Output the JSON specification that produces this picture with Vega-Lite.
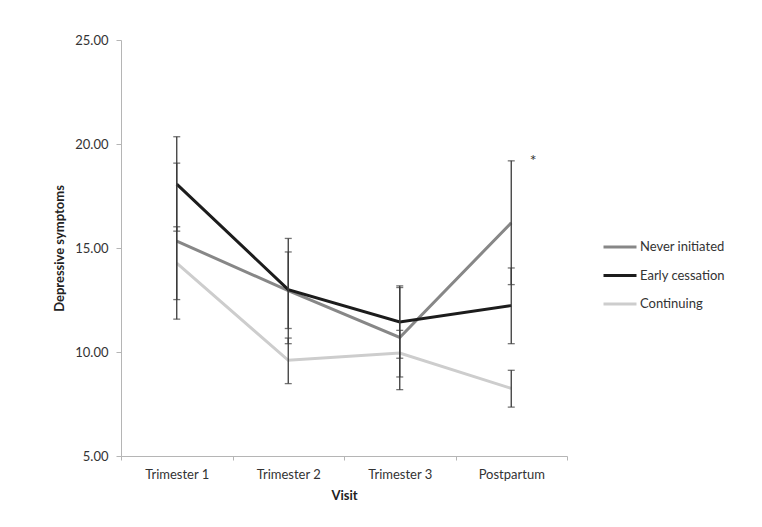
{
  "$schema": "https://vega.github.io/schema/vega-lite/v6.json",
  "width": 446,
  "height": 416,
  "autosize": {"type": "none"},
  "padding": {"left": 121, "top": 40, "right": 195, "bottom": 71},
  "background": "white",
  "data": {
    "values": [
      {"visit": "Trimester 1", "group": "Never initiated", "mean": 15.33, "lower": 11.58, "upper": 19.08},
      {"visit": "Trimester 2", "group": "Never initiated", "mean": 12.95, "lower": 11.13, "upper": 14.81},
      {"visit": "Trimester 3", "group": "Never initiated", "mean": 10.7, "lower": 8.19, "upper": 13.1},
      {"visit": "Postpartum", "group": "Never initiated", "mean": 16.21, "lower": 13.24, "upper": 19.19},
      {"visit": "Trimester 1", "group": "Early cessation", "mean": 18.07, "lower": 15.81, "upper": 20.35},
      {"visit": "Trimester 2", "group": "Early cessation", "mean": 13.0, "lower": 10.4, "upper": 15.46},
      {"visit": "Trimester 3", "group": "Early cessation", "mean": 11.44, "lower": 9.7, "upper": 13.18},
      {"visit": "Postpartum", "group": "Early cessation", "mean": 12.23, "lower": 10.4, "upper": 14.04},
      {"visit": "Trimester 1", "group": "Continuing", "mean": 14.27, "lower": 12.52, "upper": 16.02},
      {"visit": "Trimester 2", "group": "Continuing", "mean": 9.6, "lower": 8.48, "upper": 10.67},
      {"visit": "Trimester 3", "group": "Continuing", "mean": 9.95, "lower": 8.8, "upper": 11.04},
      {"visit": "Postpartum", "group": "Continuing", "mean": 8.25, "lower": 7.35, "upper": 9.12}
    ]
  },
  "encoding": {
    "x": {
      "field": "visit",
      "type": "nominal",
      "sort": ["Trimester 1", "Trimester 2", "Trimester 3", "Postpartum"],
      "scale": {"type": "band", "paddingInner": 0, "paddingOuter": 0},
      "axis": {
        "title": "Visit",
        "labelAngle": 0,
        "tickBand": "extent",
        "tickSize": 4,
        "labelPadding": 8,
        "titlePadding": 8
      }
    }
  },
  "layer": [
    {
      "mark": {"type": "line", "strokeWidth": 3},
      "encoding": {
        "y": {
          "field": "mean",
          "type": "quantitative",
          "scale": {"domain": [5, 25], "nice": false, "zero": false},
          "axis": {
            "title": "Depressive symptoms",
            "values": [5, 10, 15, 20, 25],
            "format": ".2f",
            "tickSize": 5,
            "labelPadding": 8,
            "titlePadding": 8,
            "grid": false
          }
        },
        "color": {
          "field": "group",
          "type": "nominal",
          "title": null,
          "sort": ["Never initiated", "Early cessation", "Continuing"],
          "scale": {
            "domain": ["Never initiated", "Early cessation", "Continuing"],
            "range": ["#878787", "#1c1c1c", "#cdcdcd"]
          }
        }
      }
    },
    {
      "mark": {"type": "rule", "color": "#3a3a3a", "strokeWidth": 1.3},
      "encoding": {
        "y": {"field": "lower", "type": "quantitative"},
        "y2": {"field": "upper"}
      }
    },
    {
      "mark": {"type": "tick", "color": "#3a3a3a", "size": 7, "thickness": 1.3},
      "encoding": {
        "y": {"field": "lower", "type": "quantitative"}
      }
    },
    {
      "mark": {"type": "tick", "color": "#3a3a3a", "size": 7, "thickness": 1.3},
      "encoding": {
        "y": {"field": "upper", "type": "quantitative"}
      }
    },
    {
      "data": {"values": [{"visit": "Postpartum", "level": 19.2, "note": "*"}]},
      "mark": {"type": "text", "dx": 22, "fontSize": 16, "color": "#333333", "baseline": "middle"},
      "encoding": {
        "y": {"field": "level", "type": "quantitative"},
        "text": {"field": "note"}
      }
    }
  ],
  "config": {
    "font": "Lato",
    "view": {"stroke": null},
    "axis": {
      "domainColor": "#b5b5b5",
      "tickColor": "#b5b5b5",
      "labelColor": "#333333",
      "labelFontSize": 13,
      "titleFontSize": 13,
      "titleFontWeight": "bold",
      "titleColor": "#222222",
      "grid": false
    },
    "legend": {
      "orient": "none",
      "legendX": 481,
      "legendY": 189,
      "direction": "vertical",
      "symbolType": "stroke",
      "symbolSize": 1089,
      "symbolStrokeWidth": 3,
      "labelOffset": 2,
      "labelFontSize": 13,
      "labelColor": "#333333",
      "rowPadding": 3.5
    }
  }
}
